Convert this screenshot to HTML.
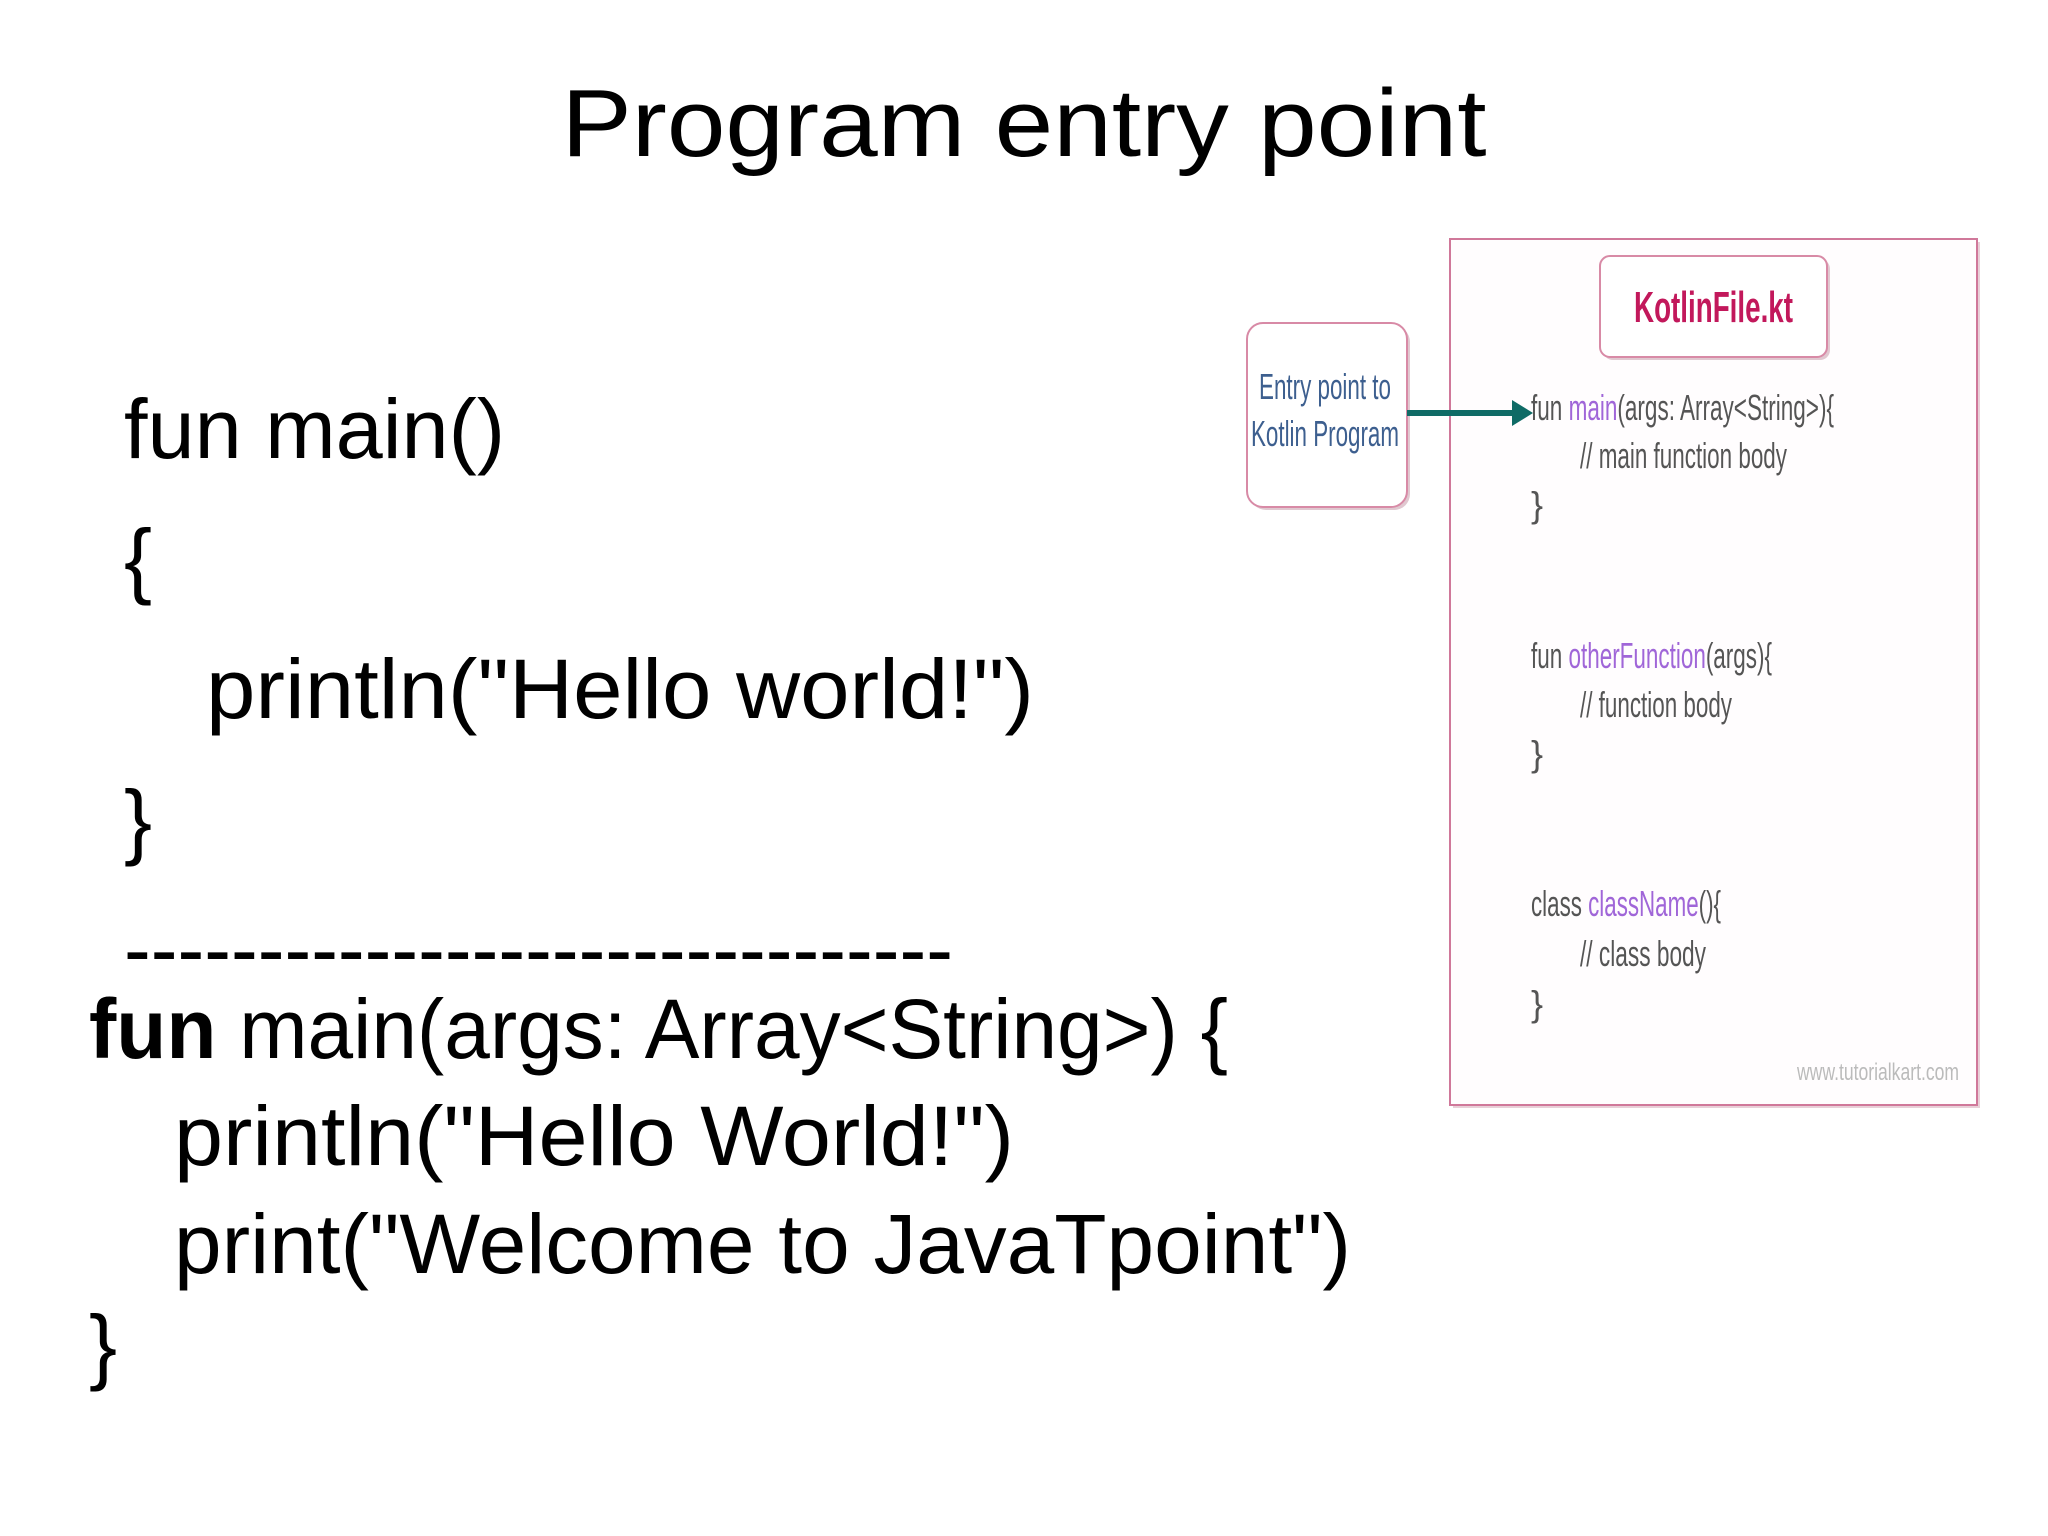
<!DOCTYPE html>
<html><head><meta charset="utf-8"><style>html,body{margin:0;padding:0;background:#fff}svg{display:block}</style></head>
<body>
<svg width="2048" height="1536" viewBox="0 0 2048 1536" xmlns="http://www.w3.org/2000/svg">
<rect width="2048" height="1536" fill="#fff"/>
<g font-family="Liberation Sans, sans-serif" fill="#000">
<text x="1024" y="156" font-size="96" text-anchor="middle" textLength="925" lengthAdjust="spacingAndGlyphs">Program entry point</text>
<g font-size="84">
<text x="124" y="458" textLength="381" lengthAdjust="spacingAndGlyphs">fun main()</text>
<text x="124" y="588">{</text>
<text x="206" y="718" textLength="828" lengthAdjust="spacingAndGlyphs">println("Hello world!")</text>
<text x="124" y="849">}</text>
<text x="124" y="978" textLength="829" lengthAdjust="spacingAndGlyphs">-------------------------------</text>
<text x="89" y="1058" textLength="1139" lengthAdjust="spacingAndGlyphs"><tspan font-weight="bold">fun</tspan> main(args: Array&lt;String&gt;) {</text>
<text x="174" y="1165" textLength="840" lengthAdjust="spacingAndGlyphs">println("Hello World!")</text>
<text x="174" y="1273" textLength="1177" lengthAdjust="spacingAndGlyphs">print("Welcome to  JavaTpoint")</text>
<text x="89" y="1374">}</text>
</g>
</g>
<!-- panel -->
<rect x="1453" y="242" width="527" height="866" fill="#e8d0d8"/>
<rect x="1450" y="239" width="527" height="866" fill="#fffdfe" stroke="#d0789a" stroke-width="2"/>
<rect x="1603" y="259" width="227" height="101" rx="10" fill="#e0c8d0"/>
<rect x="1600" y="256" width="227" height="101" rx="10" fill="#fff" stroke="#d88aa6" stroke-width="2"/>
<rect x="1250" y="326" width="160" height="184" rx="16" fill="#e0c8d0"/>
<rect x="1247" y="323" width="160" height="184" rx="16" fill="#fff" stroke="#d88aa6" stroke-width="2"/>
<line x1="1407" y1="413" x2="1515" y2="413" stroke="#0f6b66" stroke-width="6"/>
<polygon points="1512,400 1533,413 1512,426" fill="#0f6b66"/>
<g font-family="Liberation Sans Narrow, Liberation Sans, sans-serif">
<text x="1634" y="322" font-size="44" font-weight="bold" fill="#c2185b" textLength="159" lengthAdjust="spacingAndGlyphs">KotlinFile.kt</text>
<text x="1259" y="399" font-size="36" fill="#3d5f8f" textLength="132" lengthAdjust="spacingAndGlyphs">Entry point to</text>
<text x="1251" y="446" font-size="36" fill="#3d5f8f" textLength="148" lengthAdjust="spacingAndGlyphs">Kotlin Program</text>
<g font-size="36" fill="#555">
<text x="1531" y="420" textLength="303" lengthAdjust="spacingAndGlyphs">fun <tspan fill="#a066d8">main</tspan>(args: Array&lt;String&gt;){</text>
<text x="1580" y="468" textLength="207" lengthAdjust="spacingAndGlyphs">// main function body</text>
<text x="1531" y="517">}</text>
<text x="1531" y="668" textLength="241" lengthAdjust="spacingAndGlyphs">fun <tspan fill="#a066d8">otherFunction</tspan>(args){</text>
<text x="1580" y="717" textLength="152" lengthAdjust="spacingAndGlyphs">// function body</text>
<text x="1531" y="766">}</text>
<text x="1531" y="916" textLength="190" lengthAdjust="spacingAndGlyphs">class <tspan fill="#a066d8">className</tspan>(){</text>
<text x="1580" y="966" textLength="126" lengthAdjust="spacingAndGlyphs">// class body</text>
<text x="1531" y="1016">}</text>
</g>
<text x="1797" y="1080" font-size="24" fill="#bbb" textLength="162" lengthAdjust="spacingAndGlyphs">www.tutorialkart.com</text>
</g>
</svg>
</body></html>
